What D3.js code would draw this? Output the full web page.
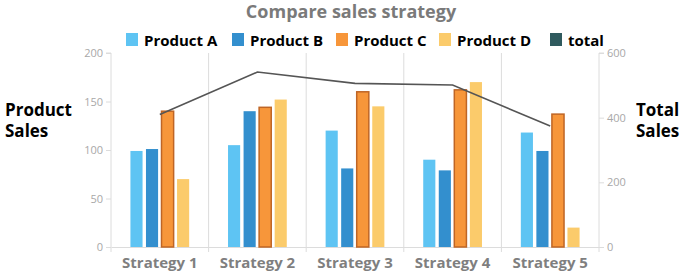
<!DOCTYPE html>
<html><head><meta charset="utf-8">
<script src="https://cdn.jsdelivr.net/npm/d3@7"></script>
<style>body{margin:0;background:#fff}svg{display:block}text{font-family:"Open Sans","Noto Sans",sans-serif}</style>
</head><body><svg id="c" width="683" height="276"></svg>
<script>
const categories = ["Strategy 1","Strategy 2","Strategy 3","Strategy 4","Strategy 5"];
const seriesNames = ["Product A","Product B","Product C","Product D"];
const productA = [99,105,120,90,118];
const productB = [101,140,81,79,99];
const productC = [140,144,160,162,137];
const productD = [70,152,145,170,20];
const totals = [410,541,506,501,374];
const leftTicks = [0,50,100,150,200];
const rightTicks = [0,200,400,600];
const colors = ["#5ec4f3","#338fce","#f7963a","#fbcb6b"];
const strokes = ["none","none","#bf6525","none"];
const totalColor = "#2f5a5e";

const svg = d3.select("#c");
const L=111,R=599,T=53,B=247;
const x = d3.scaleBand().domain(categories).range([L,R]);
const xi = d3.scaleBand().domain(seriesNames).range([0,x.bandwidth()]).paddingInner(0.22).paddingOuter(1.25);
const yL = d3.scaleLinear().domain([0,200]).range([B,T]);
const yR = d3.scaleLinear().domain([0,600]).range([B,T]);

// vertical grid at boundaries
const bounds = categories.map(c=>x(c)).concat([R]);
svg.append("g").selectAll("line").data(bounds.slice(1,-1)).join("line")
 .attr("x1",d=>d).attr("x2",d=>d).attr("y1",T).attr("y2",B+5)
 .attr("stroke","#dcdcdc").attr("stroke-width",1);

// left axis
const gl = svg.append("g").attr("transform",`translate(${L},0)`)
 .call(d3.axisLeft(yL).tickValues(leftTicks).tickSize(5).tickPadding(3));
gl.select(".domain").attr("stroke","#dcdcdc").attr("d",`M-5,${T}H0V${B}`);
gl.selectAll(".tick line").attr("stroke","#dcdcdc");
gl.selectAll("text").attr("fill","#a8a8a8").style("font-size","11px");
// right axis
const gr = svg.append("g").attr("transform",`translate(${R},0)`)
 .call(d3.axisRight(yR).tickValues(rightTicks).tickSize(5).tickPadding(3));
gr.select(".domain").attr("stroke","#dcdcdc").attr("d",`M5,${T}H0V${B}`);
gr.selectAll(".tick line").attr("stroke","#dcdcdc");
gr.selectAll("text").attr("fill","#a8a8a8").style("font-size","11px");
// bottom axis
const gb = svg.append("g").attr("transform",`translate(0,${B})`)
 .call(d3.axisBottom(x).tickSize(0).tickPadding(10));
gb.select(".domain").attr("stroke","#dcdcdc");
gb.selectAll("text").attr("fill","#7f7f7f").style("font-size","15px").style("font-weight","700");
svg.append("g").selectAll("line").data([L,R]).join("line")
 .attr("x1",d=>d).attr("x2",d=>d).attr("y1",B).attr("y2",B+5).attr("stroke","#dcdcdc");

// bars
const series = [productA,productB,productC,productD];
series.forEach((vals,si)=>{
  svg.append("g").selectAll("rect").data(vals).join("rect")
   .attr("x",(d,i)=>x(categories[i])+xi(seriesNames[si]))
   .attr("width",xi.bandwidth())
   .attr("y",d=>yL(d)).attr("height",d=>B-yL(d))
   .attr("fill",colors[si])
   .attr("stroke",strokes[si]).attr("stroke-width",1.5);
});

// total line
const line = d3.line().x((d,i)=>x(categories[i])+x.bandwidth()/2).y(d=>yR(d));
svg.append("path").datum(totals).attr("d",line).attr("fill","none")
 .attr("stroke","#555").attr("stroke-width",1.6);

// title
svg.append("text").attr("x",351).attr("y",18).attr("text-anchor","middle")
 .attr("fill","#7a7a7a").style("font-size","18px").style("font-weight","700").text("Compare sales strategy");

// legend
const legendItems = seriesNames.concat(["total"]);
const legendColors = colors.concat([totalColor]);
const lx = [126,232,336,439,550];
legendItems.forEach((n,i)=>{
  svg.append("rect").attr("x",lx[i]).attr("y",33).attr("width",12).attr("height",13).attr("fill",legendColors[i]);
  svg.append("text").attr("x",lx[i]+18).attr("y",45.5).attr("fill","#000")
   .style("font-size","15px").style("font-weight","700").text(n);
});

// side labels
const side = [["Product",5,116],["Sales",5,137],["Total",636,116],["Sales",636,137]];
side.forEach(s=>svg.append("text").attr("x",s[1]).attr("y",s[2]).attr("fill","#000")
 .style("font-size","17px").style("font-weight","700").text(s[0]));
</script></body></html>
